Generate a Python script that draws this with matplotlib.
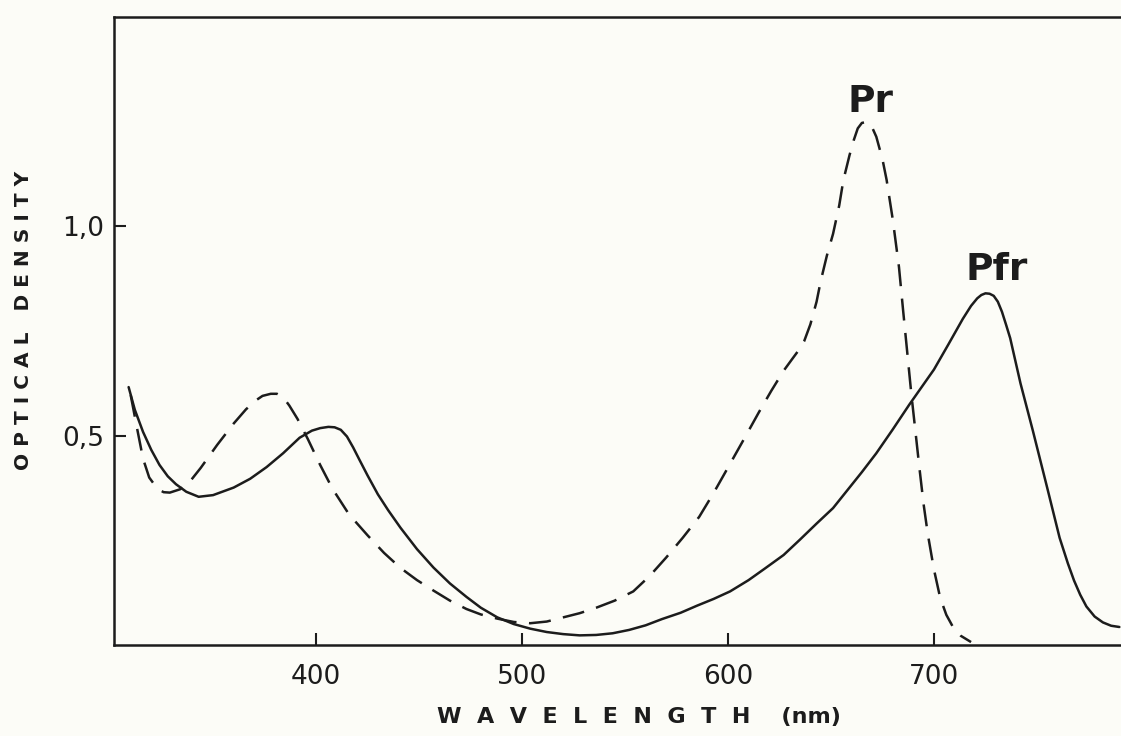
import matplotlib
matplotlib.use("Agg")
import matplotlib.pyplot as plt

# Absorption spectra of phytochrome: far-red-absorbing (Pfr) form
pfr_nm = [309, 312, 316, 320, 324, 328, 332, 337, 343, 350, 360, 368, 376, 384,
          392, 398, 402, 406, 409, 412, 415, 418, 421, 425, 430, 435, 441, 449,
          457, 465, 473, 480, 488, 496, 504, 512, 520, 528, 536, 544, 552, 560,
          568, 577, 585, 593, 601, 610, 618, 627, 635, 643, 651, 658, 665, 672,
          680, 688, 694, 700, 707, 714, 718, 721, 723, 725, 727, 729, 731, 733,
          735, 737, 742, 748, 755, 761, 765, 768, 771, 774, 778, 782, 786, 790]
pfr_od = [0.616, 0.562, 0.509, 0.466, 0.430, 0.403, 0.384, 0.366, 0.354, 0.358,
          0.376, 0.397, 0.425, 0.458, 0.495, 0.512, 0.518, 0.521, 0.520, 0.514,
          0.498, 0.472, 0.443, 0.405, 0.360, 0.322, 0.280, 0.229, 0.185, 0.147,
          0.115, 0.089, 0.066, 0.050, 0.039, 0.031, 0.026, 0.023, 0.024, 0.028,
          0.036, 0.047, 0.062, 0.077, 0.094, 0.110, 0.128, 0.155, 0.183, 0.215,
          0.252, 0.290, 0.327, 0.370, 0.413, 0.458, 0.515, 0.574, 0.616, 0.658,
          0.718, 0.779, 0.810, 0.828, 0.836, 0.840, 0.839, 0.834, 0.820, 0.796,
          0.765, 0.733, 0.625, 0.512, 0.375, 0.256, 0.195, 0.154, 0.120, 0.092,
          0.068, 0.054, 0.046, 0.043]

# Red-absorbing (Pr) form
pr_nm = [310, 313, 316, 319, 323, 326, 329, 334, 339, 344, 352, 360, 366, 371,
         374, 378, 381, 384, 387, 391, 396, 402, 408, 416, 425, 433, 441, 449,
         457, 465, 473, 480, 488, 496, 504, 512, 520, 528, 536, 545, 554, 562,
         570, 578, 586, 593, 600, 608, 615, 621, 627, 631, 634, 637, 640, 643,
         645, 648, 651, 654, 656, 659, 661, 663, 665, 667, 669, 670, 672, 675,
         677, 680, 683, 685, 687, 689, 691, 693, 695, 697, 700, 703, 706, 709,
         713, 718]
pr_od = [0.597, 0.520, 0.445, 0.400, 0.373, 0.365, 0.364, 0.372, 0.392, 0.423,
         0.478, 0.529, 0.563, 0.585, 0.595, 0.600, 0.600, 0.592, 0.572, 0.540,
         0.492, 0.430, 0.373, 0.312, 0.262, 0.220, 0.184, 0.155, 0.130, 0.106,
         0.086, 0.073, 0.063, 0.055, 0.052, 0.056, 0.066, 0.076, 0.089, 0.106,
         0.128, 0.165, 0.209, 0.256, 0.306, 0.363, 0.424, 0.494, 0.556, 0.607,
         0.655, 0.682, 0.702, 0.726, 0.766, 0.820, 0.869, 0.930, 0.982, 1.050,
         1.110, 1.170, 1.205, 1.234, 1.247, 1.249, 1.245, 1.236, 1.214, 1.160,
         1.111, 1.016, 0.903, 0.800, 0.700, 0.600, 0.510, 0.420, 0.335, 0.265,
         0.180, 0.113, 0.072, 0.045, 0.022, 0.007]

x_ticks = [400, 500, 600, 700]
x_tick_labels = ["400", "500", "600", "700"]
y_ticks = [0.5, 1.0]
y_tick_labels = ["0,5", "1,0"]

ink = "#1c1c1c"
paper = "#fcfcf7"

W, H = 1121, 736
fig = plt.figure(figsize=(W / 100, H / 100), dpi=100, facecolor=paper)
ax = fig.add_axes([114 / W, 1 - 645 / H, 1 - 114 / W, (645 - 17) / H])
ax.set_facecolor(paper)

lw = 1.8
ax.plot(pfr_nm, pfr_od, color=ink, lw=lw, solid_joinstyle="round",
        solid_capstyle="round")
ax.plot(pr_nm, pr_od, color=ink, lw=lw, dashes=(8.8, 5.0),
        dash_capstyle="butt", dash_joinstyle="round")

ax.set_xlim(301.9, 790.8)
ax.set_ylim(0, 1.5)

ax.set_xticks(x_ticks)
ax.set_xticklabels(x_tick_labels)
ax.set_yticks(y_ticks)
ax.set_yticklabels(y_tick_labels)
ax.tick_params(direction="in", length=8.6, width=1.5, color=ink,
               labelcolor=ink, labelsize=19)
ax.tick_params(axis="x", pad=14)
ax.tick_params(axis="y", pad=7)

for side in ("left", "bottom", "top"):
    ax.spines[side].set_linewidth(1.8)
    ax.spines[side].set_color(ink)
ax.spines["right"].set_visible(False)

ax.text(669.2, 1.273, "Pr", ha="center", va="baseline", fontsize=27,
        fontweight="bold", color=ink)
ax.text(730.3, 0.871, "Pfr", ha="center", va="baseline", fontsize=27,
        fontweight="bold", color=ink)

fig.text(639 / W, 1 - 723 / H, "W  A  V  E  L  E  N  G  T  H    (nm)",
         ha="center", va="baseline", fontsize=16, fontweight="bold", color=ink)
fig.text(24 / W, 1 - 320 / H, "O P T I C A L   D E N S I T Y",
         ha="center", va="center", rotation=90, fontsize=14.5,
         fontweight="bold", color=ink)

fig.savefig("out.png", dpi=100, facecolor=paper)
